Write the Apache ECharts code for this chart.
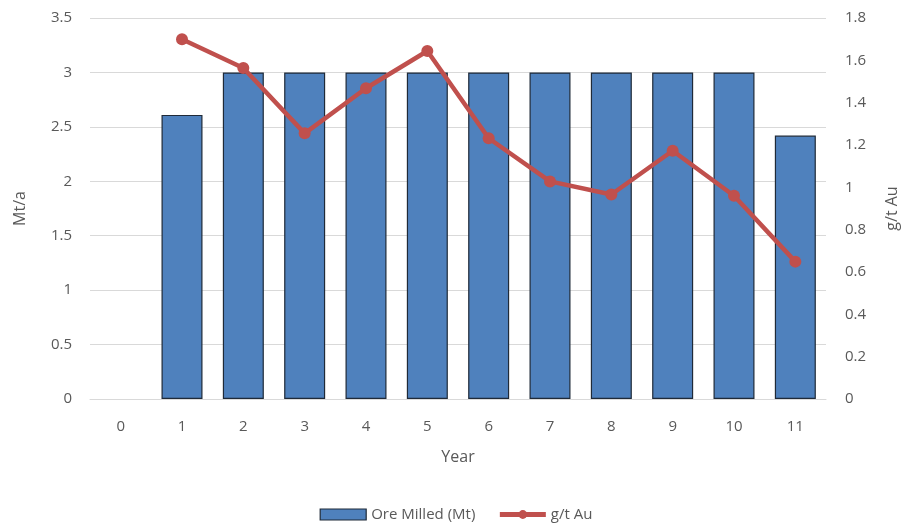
<!DOCTYPE html>
<html><head><meta charset="utf-8">
<script src="https://cdn.jsdelivr.net/npm/echarts@6/dist/echarts.min.js"></script>
<style>html,body{margin:0;padding:0;background:#fff}#c{width:912px;height:525px}</style>
</head><body><div id="c"></div>
<script>
var years = ['0','1','2','3','4','5','6','7','8','9','10','11'];
var oreMilled = [null, 2.61, 3, 3, 3, 3, 3, 3, 3, 3, 3, 2.42];
var grade = [null, 1.70, 1.564, 1.255, 1.468, 1.644, 1.232, 1.028, 0.966, 1.173, 0.960, 0.649];
var FONT = 'Open Sans';
var TXT = '#595959';
var chart = echarts.init(document.getElementById('c'), null, {renderer:'canvas'});
chart.setOption({
  animation: false,
  textStyle: {fontFamily: FONT},
  grid: {left: 90, right: 86, top: 18, bottom: 126, containLabel: false},
  legend: {
    top: 502, left: 'center', itemGap: 22, itemWidth: 46, itemHeight: 11,
    textStyle: {color: TXT, fontSize: 15, fontFamily: FONT},
    data: [
      {name: 'Ore Milled (Mt)', icon: 'rect', itemStyle: {borderColor: '#1f2a38', borderWidth: 1.2}},
      {name: 'g/t Au', lineStyle: {width: 5, color: '#C0504D'}}
    ]
  },
  xAxis: {
    type: 'category', data: years,
    name: 'Year', nameLocation: 'middle', nameGap: 50,
    nameTextStyle: {color: TXT, fontSize: 16, fontFamily: FONT},
    axisLine: {lineStyle: {color: '#d9d9d9'}},
    axisTick: {show: false},
    axisLabel: {color: TXT, fontSize: 15, margin: 20, fontFamily: FONT}
  },
  yAxis: [
    {type: 'value', min: 0, max: 3.5, interval: 0.5,
     name: 'Mt/a', nameLocation: 'middle', nameGap: 62,
     nameTextStyle: {color: TXT, fontSize: 16, fontFamily: FONT},
     axisLine: {show: false}, axisTick: {show: false},
     axisLabel: {color: TXT, fontSize: 15, margin: 18, fontFamily: FONT},
     splitLine: {lineStyle: {color: '#d9d9d9'}}},
    {type: 'value', min: 0, max: 1.8, interval: 0.2,
     name: 'g/t Au', nameLocation: 'middle', nameGap: 58, nameRotate: 90,
     nameTextStyle: {color: TXT, fontSize: 16, fontFamily: FONT},
     axisLine: {show: false}, axisTick: {show: false},
     axisLabel: {color: TXT, fontSize: 15, margin: 19, fontFamily: FONT},
     splitLine: {show: false}}
  ],
  series: [
    {name: 'Ore Milled (Mt)', type: 'bar', data: oreMilled, barWidth: 41,
     itemStyle: {color: '#4F81BD', borderColor: '#1f2a38', borderWidth: 1.2}},
    {name: 'g/t Au', type: 'line', yAxisIndex: 1, data: grade,
     symbol: 'circle', symbolSize: 12, connectNulls: false,
     lineStyle: {color: '#C0504D', width: 4.5},
     itemStyle: {color: '#C0504D'}}
  ]
});
</script></body></html>
